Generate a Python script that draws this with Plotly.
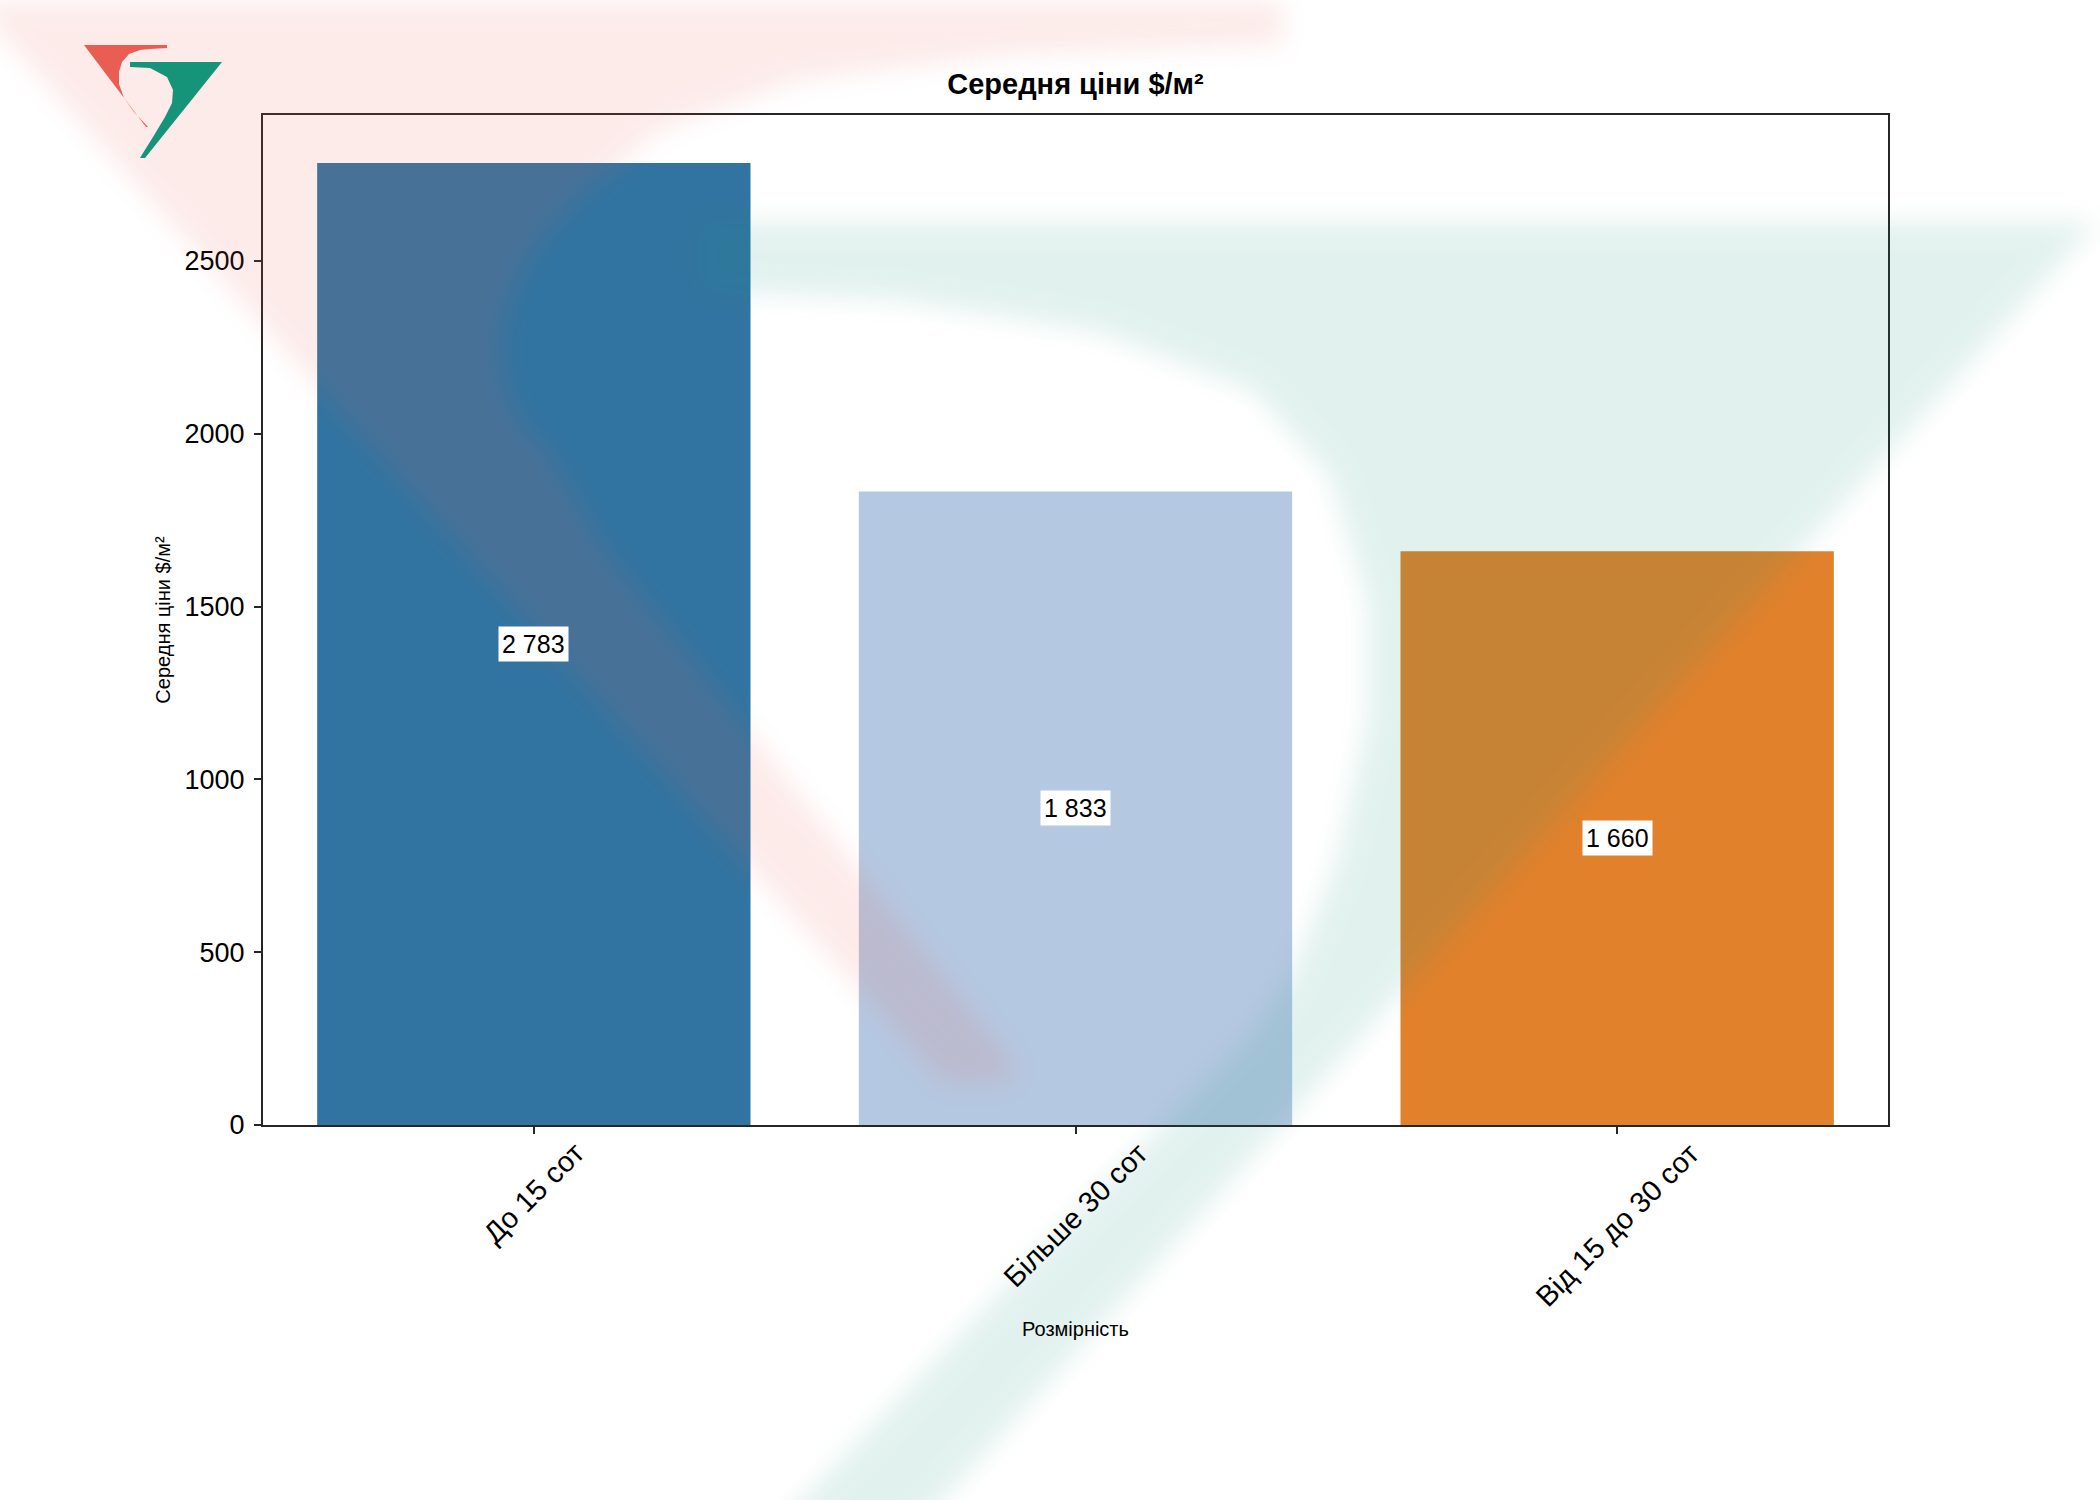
import base64
import plotly.graph_objects as go

# ---------------- data ----------------
categories = ["До 15 сот", "Більше 30 сот", "Від 15 до 30 сот"]
values = [2783, 1833, 1660]
value_labels = ["2 783", "1 833", "1 660"]
y_ticks = [0, 500, 1000, 1500, 2000, 2500]
title_text = "Середня ціни $/м²"
x_title = "Розмірність"
y_title = "Середня ціни $/м²"

# ---------------- style ----------------
bar_colors = ["#3274a1", "#b5c8e1", "#e1812c"]
FONT = "Arial, 'Liberation Sans', sans-serif"
W, H = 2100, 1500
L, R, T, B = 263, 212, 115, 375
PW, PH = W - L - R, H - T - B
y_max = max(values) * 1.05

RED, GREEN = "#e85e52", "#16947a"

# watermark (large, blurred) outline in figure pixels
big_red = [(-27, 2), (1283, 2), (1283, 44), (1010, 54), (800, 80), (660, 130), (575, 200),
           (530, 253), (505, 310), (499, 353), (508, 400), (525, 430), (549, 453),
           (606, 553), (1017, 1067), (1008, 1083), (945, 1085)]
big_green = [(700, 222), (2097, 222), (861, 1590), (717, 1590), (850, 1450), (993, 1300),
             (1253, 1033), (1291, 976), (1337, 861), (1368, 717), (1368, 602), (1330, 476),
             (1253, 390), (1100, 332), (900, 300), (700, 290)]
# small logo
small_red = [(84, 45), (167, 45), (167, 48), (150, 49), (140, 50), (129, 54), (122, 62),
             (119, 72), (119, 84), (124, 98), (134, 112), (148, 127), (146, 127)]
small_green = [(130, 62), (222, 62), (145, 158), (140, 158), (143, 153), (153, 137),
               (165, 117), (172, 103), (173, 90), (167, 77), (150, 68), (130, 67)]


def path(pts):
    return "M" + " L".join(f"{x},{y}" for x, y in pts) + " Z"


svg = f'''<svg xmlns="http://www.w3.org/2000/svg" width="{W}" height="{H}" viewBox="0 0 {W} {H}" preserveAspectRatio="none">
<defs><filter id="b" x="-20%" y="-20%" width="140%" height="140%"><feGaussianBlur stdDeviation="13"/></filter></defs>
<g filter="url(#b)" opacity="0.12">
<path d="{path(big_red)}" fill="{RED}"/>
<path d="{path(big_green)}" fill="{GREEN}"/>
</g>
<path d="{path(small_red)}" fill="{RED}"/>
<path d="{path(small_green)}" fill="{GREEN}"/>
</svg>'''
svg_uri = "data:image/svg+xml;base64," + base64.b64encode(svg.encode("utf-8")).decode()

fig = go.Figure()
fig.add_trace(go.Bar(
    x=categories, y=values, width=0.8,
    marker=dict(color=bar_colors, line=dict(width=0)),
    showlegend=False, hoverinfo="x+y",
))

annotations = []
for c, v, lab in zip(categories, values, value_labels):
    annotations.append(dict(
        x=c, y=v / 2, xref="x", yref="y", text=lab, showarrow=False,
        font=dict(family=FONT, size=25, color="black"),
        bgcolor="white", borderpad=3, xanchor="center", yanchor="middle",
    ))
    annotations.append(dict(
        x=c, y=0, xref="x", yref="paper", text=c, showarrow=False, textangle=-45,
        font=dict(family=FONT, size=29, color="black"),
        xanchor="center", yanchor="top", yshift=-9,
    ))

fig.update_layout(
    width=W, height=H, autosize=False,
    margin=dict(l=L, r=R, t=T, b=B, pad=0),
    paper_bgcolor="white", plot_bgcolor="rgba(0,0,0,0)",
    font=dict(family=FONT, color="black"),
    title=dict(text=title_text, x=0.5, xref="paper", xanchor="center",
               y=1 - 84 / H, yref="container", yanchor="middle",
               font=dict(family=FONT, size=29, color="black", weight="bold")),
    bargap=0.2,
    annotations=annotations,
    images=[dict(source=svg_uri, xref="paper", yref="paper",
                 x=-L / PW, y=1 + T / PH, sizex=W / PW, sizey=H / PH,
                 xanchor="left", yanchor="top", sizing="stretch", layer="above", opacity=1)],
)
fig.update_xaxes(
    type="category", range=[-0.5, len(categories) - 0.5],
    showticklabels=False, ticks="outside", ticklen=7, tickwidth=1.5, tickcolor="#262626",
    showline=True, mirror=True, linecolor="#262626", linewidth=2,
    showgrid=False, zeroline=False,
    title=dict(text=x_title, font=dict(family=FONT, size=20, color="black"), standoff=189),
)
fig.update_yaxes(
    range=[0, y_max], tickvals=y_ticks, ticktext=[str(t) for t in y_ticks],
    tickfont=dict(family=FONT, size=27, color="black"),
    ticks="outside", ticklen=7, tickwidth=1.5, tickcolor="#262626", ticklabelstandoff=4,
    showline=True, mirror=True, linecolor="#262626", linewidth=2,
    showgrid=False, zeroline=False,
    title=dict(text=y_title, font=dict(family=FONT, size=20, color="black"), standoff=9),
)

fig.write_html("out.html", config={"displayModeBar": False},
               post_script="document.body.style.margin='0';document.body.style.overflow='hidden';")
